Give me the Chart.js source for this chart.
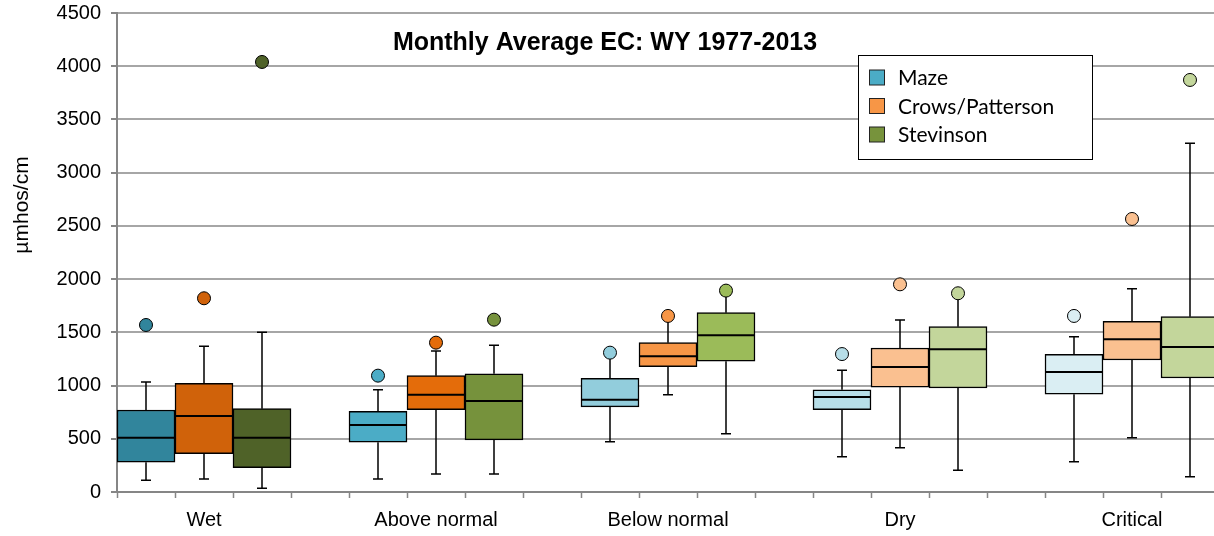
<!DOCTYPE html>
<html>
<head>
<meta charset="utf-8">
<script src="https://cdn.jsdelivr.net/npm/chart.js"></script>
<style>
  html, body { margin: 0; padding: 0; background: #fff; overflow: hidden; }
  #wrap { position: relative; width: 1290px; height: 536px; }
</style>
</head>
<body>
<div id="wrap"><canvas id="ecChart"></canvas></div>
<script>
// year types along the x axis
const categories = ['Wet', 'Above normal', 'Below normal', 'Dry', 'Critical'];
const seriesNames = ['Maze', 'Crows/Patterson', 'Stevinson'];
const yMin = 0, yMax = 4500, yStep = 500;

// one row per year type: [low whisker, Q1, median, Q3, high whisker, outlier]
const maze = [
  [110, 280, 510, 770, 1033, 1569],
  [122, 467, 629, 758, 961, 1093],
  [473, 799, 867, 1068, 1270, 1309],
  [332, 773, 893, 961, 1143, 1296],
  [285, 918, 1127, 1294, 1459, 1654]
];
const crows = [
  [122, 360, 714, 1021, 1369, 1820],
  [169, 773, 914, 1093, 1325, 1403],
  [914, 1177, 1275, 1403, 1615, 1654],
  [416, 986, 1174, 1353, 1616, 1951],
  [510, 1240, 1435, 1604, 1910, 2565]
];
const stevinson = [
  [35, 229, 510, 783, 1500, 4040],
  [169, 489, 855, 1111, 1378, 1619],
  [548, 1228, 1472, 1685, 1850, 1892],
  [204, 977, 1340, 1553, 1830, 1867],
  [144, 1071, 1362, 1647, 3276, 3871]
];

// colours get lighter from wet to critical
const mazeColors = ['#31859C', '#4BACC6', '#92CDDC', '#B7DEE8', '#DAEEF3'];
const crowsColors = ['#D0620A', '#E46C0A', '#F79646', '#FAC090', '#FAC090'];
const stevColors = ['#4F6228', '#76923C', '#9BBB59', '#C3D69B', '#C3D69B'];
const legendColors = ['#4BACC6', '#F79646', '#77933C'];

const allRows = [maze, crows, stevinson];
const allColors = [mazeColors, crowsColors, stevColors];

// 4 slots per year type: 3 boxes and an empty gap
const slots = categories.length * 4;
const labels = [];
for (let i = 0; i < slots; i++) labels.push(i % 4 === 1 ? categories[(i - 1) / 4] : '');

function toSlots(list, s) {
  const arr = new Array(slots).fill(null);
  list.forEach((v, c) => { arr[c * 4 + s] = v; });
  return arr;
}

const datasets = [];
allRows.forEach((rows, s) => {
  datasets.push({
    type: 'bar',
    label: seriesNames[s],
    data: toSlots(rows.map(r => [r[1], r[3]]), s),
    backgroundColor: toSlots(allColors[s], s),
    borderColor: '#000',
    borderWidth: 1.5,
    borderSkipped: false,
    grouped: false,
    barPercentage: 1,
    categoryPercentage: 1,
    order: 1
  });
});
allRows.forEach((rows, s) => {
  datasets.push({
    type: 'line',
    label: seriesNames[s] + ' outlier',
    data: toSlots(rows.map(r => r[5]), s),
    showLine: false,
    pointRadius: 6.5,
    pointBackgroundColor: toSlots(allColors[s], s),
    pointBorderColor: '#000',
    pointBorderWidth: 1,
    order: 0
  });
});

const boxExtras = {
  id: 'boxExtras',
  beforeDatasetsDraw(chart) {
    const ctx = chart.ctx, y = chart.scales.y;
    ctx.save();
    ctx.strokeStyle = '#000';
    ctx.lineWidth = 1.5;
    allRows.forEach((rows, s) => {
      const meta = chart.getDatasetMeta(s);
      rows.forEach((r, c) => {
        const bar = meta.data[c * 4 + s];
        const x = bar.x;
        ctx.beginPath();
        ctx.moveTo(x, y.getPixelForValue(r[0]));
        ctx.lineTo(x, y.getPixelForValue(r[1]));
        ctx.moveTo(x, y.getPixelForValue(r[3]));
        ctx.lineTo(x, y.getPixelForValue(r[4]));
        ctx.moveTo(x - 5, y.getPixelForValue(r[0]));
        ctx.lineTo(x + 5, y.getPixelForValue(r[0]));
        ctx.moveTo(x - 5, y.getPixelForValue(r[4]));
        ctx.lineTo(x + 5, y.getPixelForValue(r[4]));
        ctx.stroke();
      });
    });
    ctx.restore();
  },
  afterDatasetsDraw(chart) {
    const ctx = chart.ctx, y = chart.scales.y;
    ctx.save();
    ctx.strokeStyle = '#000';
    ctx.lineWidth = 2;
    allRows.forEach((rows, s) => {
      const meta = chart.getDatasetMeta(s);
      rows.forEach((r, c) => {
        const bar = meta.data[c * 4 + s];
        const my = y.getPixelForValue(r[2]);
        ctx.beginPath();
        ctx.moveTo(bar.x - bar.width / 2, my);
        ctx.lineTo(bar.x + bar.width / 2, my);
        ctx.stroke();
      });
    });
    ctx.restore();
  },
  afterDraw(chart) {
    const ctx = chart.ctx;
    ctx.save();
    // title
    ctx.fillStyle = '#000';
    ctx.font = 'bold 25px "Liberation Sans", Arial, sans-serif';
    ctx.textAlign = 'center';
    ctx.textBaseline = 'middle';
    ctx.fillText('Monthly Average EC: WY 1977-2013', 605, 43);
    // y axis title
    ctx.save();
    ctx.translate(22, 205);
    ctx.rotate(-Math.PI / 2);
    ctx.font = '21px "Liberation Sans", Arial, sans-serif';
    ctx.fillText('µmhos/cm', 0, 0);
    ctx.restore();
    // legend
    ctx.fillStyle = '#fff';
    ctx.fillRect(858.5, 55.5, 234, 104);
    ctx.strokeStyle = '#000';
    ctx.lineWidth = 1;
    ctx.strokeRect(858.5, 55.5, 234, 104);
    ctx.font = '21px Lato, "Open Sans", sans-serif';
    ctx.textAlign = 'left';
    seriesNames.forEach((name, i) => {
      const cy = 77.5 + i * 28.5;
      ctx.fillStyle = legendColors[i];
      ctx.fillRect(869.5, cy - 7.5, 15, 15);
      ctx.strokeStyle = '#222';
      ctx.strokeRect(869.5, cy - 7.5, 15, 15);
      ctx.fillStyle = '#000';
      ctx.fillText(name, 898, cy + 1);
    });
    ctx.restore();
  }
};

const tickFont = { family: '"Liberation Sans", Arial, sans-serif', size: 20 };

new Chart(document.getElementById('ecChart'), {
  data: { labels: labels, datasets: datasets },
  options: {
    responsive: true,
    maintainAspectRatio: false,
    animation: false,
    layout: { padding: { left: 0, right: 13, top: 13, bottom: 0 } },
    plugins: { legend: { display: false }, tooltip: { enabled: false } },
    scales: {
      x: {
        type: 'category',
        offset: true,
        grid: { offset: true, drawOnChartArea: false, tickLength: 6, tickColor: '#868686', tickWidth: 1.5 },
        border: { color: '#868686', width: 2 },
        ticks: { color: '#000', font: tickFont, padding: 10, autoSkip: false, maxRotation: 0, minRotation: 0 },
        afterFit(scale) { scale.height = 44; scale.paddingLeft = 0; scale.paddingRight = 0; }
      },
      y: {
        min: yMin,
        max: yMax,
        ticks: { stepSize: yStep, color: '#000', font: tickFont, padding: 10, callback: v => String(v) },
        grid: { color: '#A6A6A6', lineWidth: 2, tickLength: 6, tickColor: '#868686' },
        border: { color: '#868686', width: 2 },
        afterFit(scale) { scale.width = 117; scale.paddingTop = 0; scale.paddingBottom = 0; }
      }
    }
  },
  plugins: [boxExtras]
});
</script>
</body>
</html>
